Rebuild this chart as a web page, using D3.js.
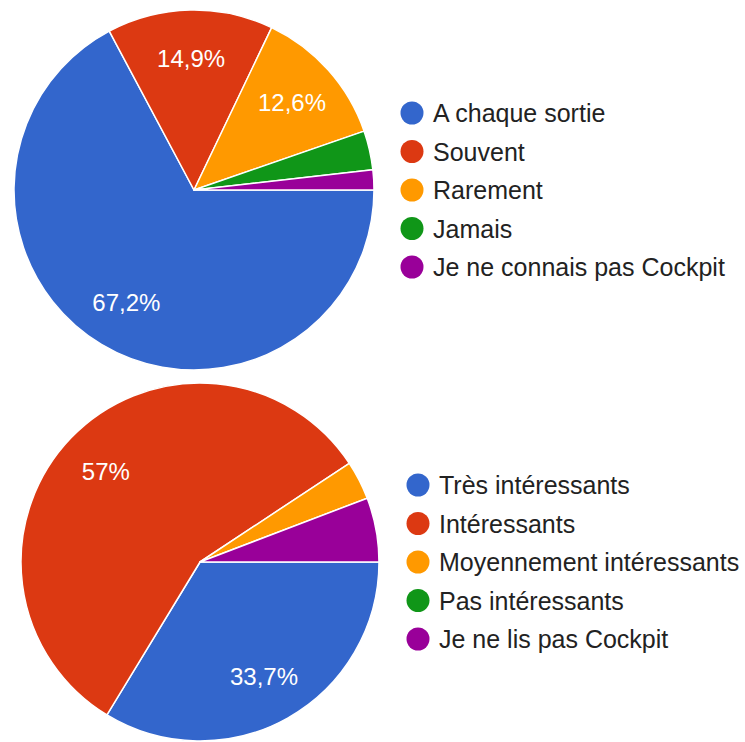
<!DOCTYPE html>
<html>
<head>
<meta charset="utf-8">
<script src="https://cdn.jsdelivr.net/npm/d3@7"></script>
<style>
  html, body { margin: 0; padding: 0; background: #ffffff; }
  svg { display: block; }
  text { font-family: "Liberation Sans", Arial, sans-serif; }
</style>
</head>
<body>
<svg id="chart" width="745" height="742"></svg>
<script>
// Survey answers, in percent of respondents
const colors = ["#3366cc", "#dc3912", "#ff9900", "#109618", "#990099"];

const q1Categories = ["A chaque sortie", "Souvent", "Rarement", "Jamais", "Je ne connais pas Cockpit"];
const q1Values = [67.2, 14.9, 12.6, 3.5, 1.8];

const q2Categories = ["Très intéressants", "Intéressants", "Moyennement intéressants", "Pas intéressants", "Je ne lis pas Cockpit"];
const q2Values = [33.7, 57, 3.5, 0, 5.8];

const svg = d3.select("#chart");

const fmtPct = v => (Number.isInteger(v) ? String(v) : v.toFixed(1)).replace(".", ",") + "%";

function drawPie(categories, values, cx, cy, radius, legendX) {
  const g = svg.append("g").attr("transform", `translate(${cx},${cy})`);
  const color = d3.scaleOrdinal().domain(categories).range(colors);

  // slices start at 3 o'clock and run clockwise
  const pie = d3.pie().sort(null)
    .startAngle(Math.PI / 2)
    .endAngle(Math.PI / 2 + 2 * Math.PI)
    .value(d => d.v);
  const data = categories.map((c, i) => ({ c, v: values[i] }));
  const arcs = pie(data);

  const arc = d3.arc().innerRadius(0).outerRadius(radius);
  const labelArc = d3.arc().innerRadius(radius * 0.73).outerRadius(radius * 0.73);

  g.selectAll("path.slice")
    .data(arcs.filter(a => a.data.v > 0))
    .join("path")
    .attr("class", "slice")
    .attr("d", arc)
    .attr("fill", a => color(a.data.c))
    .attr("stroke", "#ffffff")
    .attr("stroke-width", 1.5)
    .attr("stroke-linejoin", "round");

  g.selectAll("text.pct")
    .data(arcs.filter(a => a.data.v >= 10))
    .join("text")
    .attr("class", "pct")
    .attr("transform", a => `translate(${labelArc.centroid(a)})`)
    .attr("text-anchor", "middle")
    .attr("dy", "0.36em")
    .attr("fill", "#ffffff")
    .style("font-size", "24px")
    .text(a => fmtPct(a.data.v));

  // legend, vertically centred on the pie
  const rowH = 38.5;
  const legend = svg.append("g")
    .attr("transform", `translate(${legendX},${cy - rowH * (categories.length - 1) / 2})`);
  const rows = legend.selectAll("g.row")
    .data(categories)
    .join("g")
    .attr("class", "row")
    .attr("transform", (d, i) => `translate(0,${i * rowH})`);
  rows.append("circle")
    .attr("r", 11.5)
    .attr("fill", d => color(d));
  rows.append("text")
    .attr("x", 21)
    .attr("dy", "0.36em")
    .attr("fill", "#222222")
    .style("font-size", "25px")
    .text(d => d);
}

drawPie(q1Categories, q1Values, 194, 190, 180, 412);
drawPie(q2Categories, q2Values, 200, 562, 179, 418);
</script>
</body>
</html>
